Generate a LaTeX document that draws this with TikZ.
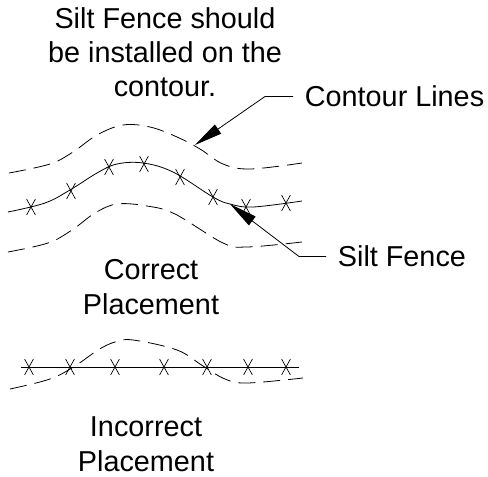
\documentclass[tikz,border=0pt]{standalone}
\usepackage{fontspec}
\setmainfont{Liberation Sans}
\usetikzlibrary{arrows.meta,shapes.misc}

\begin{document}
\begin{tikzpicture}[x=1pt, y=-1pt, line width=0.8pt]
        \tikzstyle{note}=[font=\fontsize{28.8}{35}\selectfont, align=center, inner sep=0pt]
        \tikzstyle{callout}=[font=\fontsize{28.8}{35}\selectfont, anchor=west, inner ysep=0pt, inner xsep=11.5pt]
        \tikzstyle{contour}=[dash pattern=on 17pt off 8pt]
        \tikzstyle{post}=[cross out, draw, line width=0.7pt, inner sep=0pt, minimum width=8pt, minimum height=15pt]
        \tikzstyle{leader}=[-{Triangle[length=28pt, width=11pt]}]
        \useasboundingbox (0,0) rectangle (488,477);
        \node [note, font=\fontsize{28.8}{34}\selectfont] (title) at (165,52.5) {Silt Fence should\\be installed on the\\contour.};
        \node [note] (correct) at (151,287.5) {Correct\\Placement};
        \node [note] (incorrect) at (146,444) {Incorrect\\Placement};
        \node [callout] (contourlbl) at (293,96.5) {Contour Lines};
        \node [callout] (fencelbl) at (326,256.5) {Silt Fence};
        % correct placement
        \draw [contour] plot [smooth, tension=0.6] coordinates {(9,173) (50,164) (73,152) (97,135) (123,125) (150,127) (177,137) (200,149) (223,164) (250,169) (302,163)};
        \draw plot [smooth, tension=0.6] coordinates {(8,212) (45,203) (70,190) (97,173) (117,164) (143,163) (173,172) (213,197) (230,204) (253,207) (302,201)};
        \draw [contour] plot [smooth, tension=0.6] coordinates {(8,252) (48,243) (72,230) (95,213) (117,204) (147,206) (175,214) (223,243) (247,247) (302,242)};
        \foreach \name/\pos in {a/{31,207}, b/{71,191}, c/{109,167}, d/{144,164}, e/{180,177}, f/{213,197}, g/{246,207}, h/{286,203}}
            \node [post] (\name) at (\pos) {};
        % incorrect placement
        \coordinate (railstart) at (21,367);
        \coordinate (railend) at (299,367);
        \draw (railstart) -- (railend);
        \draw [contour] plot [smooth, tension=0.6] coordinates {(10,389) (50,379) (75,366) (98,350) (115,342) (133,340) (177,350) (203,366) (225,379) (247,383) (303,378)};
        \foreach \name/\pos in {p/29, q/70, r/115, s/164, t/207, u/248, v/286}
            \node [post] (\name) at (\pos,367) {};
        % leaders
        \coordinate (contourbend) at (265,96.5);
        \coordinate (contourtip) at (195,145);
        \coordinate (fencebend) at (299,256.5);
        \coordinate (fencetip) at (230,204);
        \draw [leader] (contourlbl.west) -- (contourbend) -- (contourtip);
        \draw [leader] (fencelbl.west) -- (fencebend) -- (fencetip);
\end{tikzpicture}
\end{document}
